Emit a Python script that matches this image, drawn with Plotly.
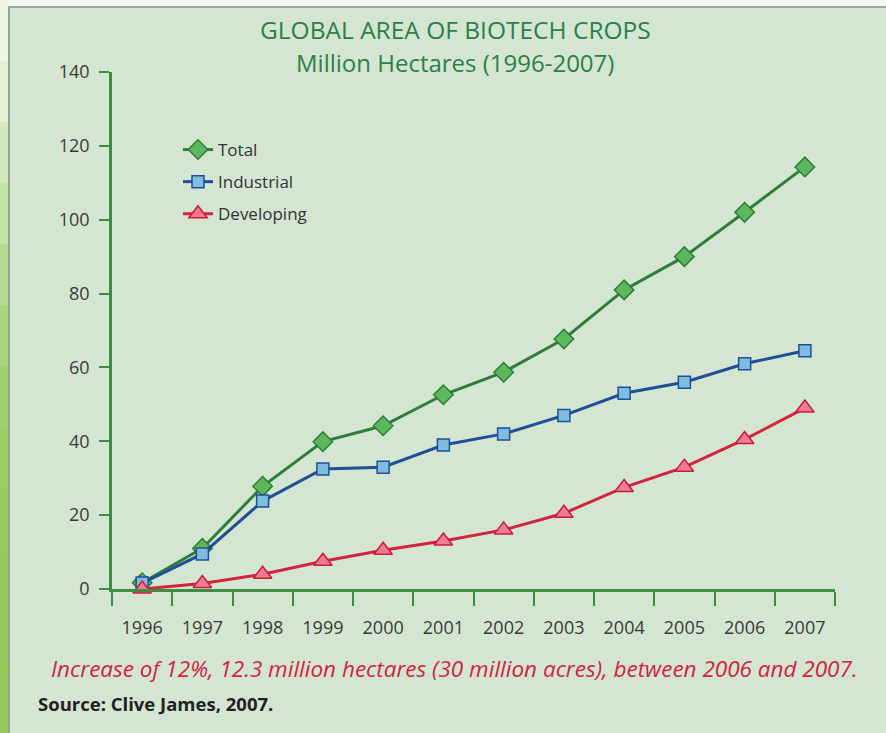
import plotly.graph_objects as go

years = ["1996", "1997", "1998", "1999", "2000", "2001", "2002", "2003", "2004", "2005", "2006", "2007"]
total = [1.7, 11.0, 27.8, 39.9, 44.2, 52.6, 58.7, 67.7, 81.0, 90.0, 102.0, 114.3]
industrial = [1.6, 9.5, 23.8, 32.5, 33.0, 39.0, 42.0, 47.0, 53.0, 56.0, 61.0, 64.5]
developing = [0.0, 1.5, 4.0, 7.5, 10.5, 13.0, 16.0, 20.5, 27.5, 33.0, 40.5, 49.0]
y_ticks = [0, 20, 40, 60, 80, 100, 120, 140]

W, H = 886, 733
L, R, T, B = 112, 51, 72, 144
PW, PH = W - L - R, H - T - B

def px(x):
    return (x - L) / PW

def py(y):
    return (H - B - y) / PH

BG = "#d4e6d2"
FONT = "Open Sans"

fig = go.Figure()
fig.add_trace(go.Scatter(
    x=years, y=total, name="Total", mode="lines+markers", legendgroup="a",
    line=dict(color="#2f7d3a", width=3),
    marker=dict(symbol="diamond", size=15, color="#5cb85a", line=dict(color="#2f7d3a", width=1.5)),
    cliponaxis=False))
fig.add_trace(go.Scatter(
    x=years, y=industrial, name="Industrial", mode="lines+markers", legendgroup="b",
    line=dict(color="#1f4f96", width=3),
    marker=dict(symbol="square", size=12, color="#7ebde0", line=dict(color="#1f4f96", width=1.5)),
    cliponaxis=False))
fig.add_trace(go.Scatter(
    x=years, y=developing, name="Developing", mode="lines+markers", legendgroup="c",
    line=dict(color="#d2233f", width=3),
    marker=dict(symbol="triangle-up", size=16, color="#f27a95", line=dict(color="#c81d3a", width=1.5)),
    cliponaxis=False))

shapes = []
shapes.append(dict(type="rect", xref="paper", yref="paper", x0=px(0), x1=px(W), y0=py(6), y1=py(0),
                   fillcolor="#f3f7ef", line=dict(width=0), layer="below"))
shapes.append(dict(type="line", xref="paper", yref="paper", x0=px(8), x1=px(W), y0=py(7), y1=py(7),
                   line=dict(color="#9aa89a", width=2), layer="below"))
stripe = ["#eef5e4", "#e3f0d3", "#d3e9bd", "#c3e2a6", "#b5da90", "#a9d47e", "#a0cf6f", "#9bcc64",
          "#99cb5e", "#98ca5b", "#97ca5a", "#97ca5a"]
seg = H / len(stripe)
for i, c in enumerate(stripe):
    shapes.append(dict(type="rect", xref="paper", yref="paper", x0=px(0), x1=px(8),
                       y0=py((i + 1) * seg + 1), y1=py(i * seg), fillcolor=c, line=dict(width=0), layer="below"))
shapes.append(dict(type="line", xref="paper", yref="paper", x0=px(9), x1=px(9), y0=py(H), y1=py(7),
                   line=dict(color="#8fa98f", width=2), layer="below"))

annotations = [
    dict(text="GLOBAL AREA OF BIOTECH CROPS", x=px(455), y=py(30), xref="paper", yref="paper",
         showarrow=False, font=dict(family=FONT, size=24.5, color="#2b8049"), xanchor="center", yanchor="middle"),
    dict(text="Million Hectares (1996-2007)", x=px(455), y=py(62), xref="paper", yref="paper",
         showarrow=False, font=dict(family=FONT, size=24, color="#2b8049"), xanchor="center", yanchor="middle"),
    dict(text="<i>Increase of 12%, 12.3 million hectares (30 million acres), between 2006 and 2007.</i>",
         x=px(454), y=py(668), xref="paper", yref="paper", showarrow=False,
         font=dict(family=FONT, size=22.5, color="#d2233f"), xanchor="center", yanchor="middle"),
    dict(text="<b>Source: Clive James, 2007.</b>", x=px(36), y=py(703), xref="paper", yref="paper",
         showarrow=False, font=dict(family=FONT, size=18.5, color="#222222"), xanchor="left", yanchor="middle"),
]

fig.update_layout(
    width=W, height=H,
    margin=dict(l=L, r=R, t=T, b=B),
    paper_bgcolor=BG, plot_bgcolor=BG,
    font=dict(family=FONT, color="#3a3a3a"),
    showlegend=True,
    legend=dict(x=px(178), y=py(132), xanchor="left", yanchor="top", bgcolor="rgba(0,0,0,0)",
                font=dict(family=FONT, size=17, color="#333333"), tracegroupgap=7, itemwidth=30),
    shapes=shapes,
    annotations=annotations,
    xaxis=dict(type="category", tickson="boundaries", ticks="outside", ticklen=14, tickwidth=2,
               tickcolor="#3f8a45", showline=True, linecolor="#3f8a45", linewidth=2.5,
               showgrid=False, zeroline=False, range=[-0.5, 11.5], ticklabelstandoff=21,
               tickfont=dict(family=FONT, size=18, color="#3a3a3a")),
    yaxis=dict(range=[0, 140], tickvals=y_ticks, ticks="outside", ticklen=10, tickwidth=2,
               tickcolor="#3f8a45", showline=True, linecolor="#3f8a45", linewidth=2.5,
               showgrid=False, zeroline=False, ticklabelstandoff=6,
               tickfont=dict(family=FONT, size=18, color="#3a3a3a")),
)

fig.write_html("out.html")
